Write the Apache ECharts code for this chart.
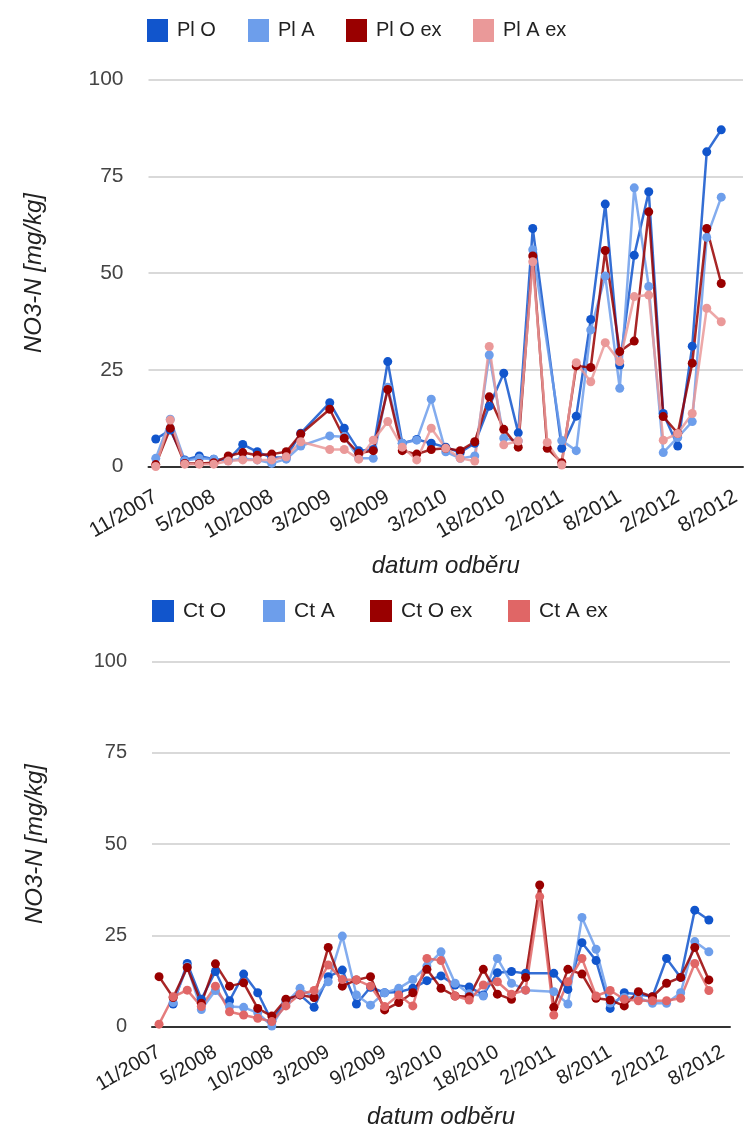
<!DOCTYPE html>
<html><head><meta charset="utf-8">
<script src="https://cdn.jsdelivr.net/npm/echarts@6/dist/echarts.min.js"></script>
<style>html,body{margin:0;padding:0;background:#fff}#c{width:746px;height:1131px}</style>
</head><body><div id="c"></div>
<script>
// tick labels (every 4th sampling date)
var xLabels = ['11/2007','5/2008','10/2008','3/2009','9/2009','3/2010','18/2010','2/2011','8/2011','2/2012','8/2012'];
var yTicks = [0, 25, 50, 75, 100];
var nCats = 41;

// top panel
var plO   = [7.1,9.4,1.7,2.7,1.9,1.7,5.7,3.8,2.3,2.4,8.6,null,16.5,9.9,4.1,4.4,27.1,6.0,7.0,6.0,5.0,3.6,6.0,15.6,24.1,8.7,61.5,null,4.7,13.0,38.0,67.8,26.2,54.6,71.0,13.7,5.3,31.1,81.3,87.0];
var plA   = [2.1,12.2,1.5,2.1,1.9,1.5,2.1,1.7,0.8,1.9,5.3,null,7.9,7.7,2.1,2.1,20.5,6.0,6.8,17.4,3.8,2.1,2.7,28.8,7.3,6.6,56.0,null,6.7,4.1,35.3,49.2,20.2,72.0,46.5,3.6,7.5,11.6,59.2,69.6];
var plOex = [0.5,9.9,0.8,0.8,1.0,2.7,3.6,2.9,3.2,3.8,8.4,null,14.8,7.3,3.4,4.1,19.9,4.1,3.2,4.4,4.7,4.1,6.4,18.0,9.6,5.0,54.4,4.7,1.0,26.0,25.6,55.8,29.7,32.4,65.8,12.9,8.6,26.7,61.5,47.3];
var plAex = [0,12.0,0.6,0.6,0.6,1.4,1.7,1.7,1.7,2.5,6.4,null,4.4,4.4,1.9,6.8,11.6,5.0,1.7,9.9,4.7,2.1,1.4,31.0,5.6,6.6,52.9,6.2,0.4,26.8,21.9,32.0,27.1,43.9,44.3,6.8,8.5,13.7,40.9,37.4];

// bottom panel
var ctO   = [null,6.2,17.3,7.5,15.1,7.1,14.4,9.3,1.5,7.3,8.7,5.3,13.7,15.5,6.2,10.8,9.3,9.5,10.5,12.6,13.9,11.4,10.9,8.7,14.8,15.1,14.6,null,14.6,10.2,23.0,18.1,5.0,9.3,8.9,8.2,18.7,13.5,31.9,29.2];
var ctA   = [null,6.6,16.5,4.7,9.9,5.5,5.3,3.8,0.2,6.5,10.5,8.0,12.3,24.8,8.7,5.9,9.3,10.5,12.9,16.6,20.5,11.9,9.0,8.4,18.7,11.9,10.0,null,9.6,6.2,29.9,21.2,6.5,8.0,8.0,6.4,6.4,9.3,23.3,20.5];
var ctOex = [13.7,8.0,16.2,6.4,17.2,11.1,12.0,5.0,2.9,7.5,8.7,8.0,21.7,11.1,12.8,13.7,4.6,6.6,9.3,15.7,10.5,8.4,8.2,15.7,8.9,7.5,13.5,38.8,5.3,15.7,14.4,7.8,7.3,5.7,9.6,8.2,11.9,13.5,21.7,12.8];
var ctAex = [0.7,8.2,10.0,5.5,11.1,4.1,3.2,2.3,1.4,5.7,8.9,9.9,16.9,12.9,12.8,11.1,5.5,8.7,5.7,18.7,18.1,8.4,7.3,11.4,12.3,8.9,10.0,35.6,3.2,12.3,18.7,8.4,9.9,7.5,7.1,7.1,7.1,7.8,17.3,9.9];

var cats = [];
for (var i = 0; i < nCats; i++) cats.push(i % 4 === 0 ? xLabels[i / 4] : '');

var FONT = '"Liberation Sans", Arial, sans-serif';
var C = {O:'#1155cc', A:'#6d9eeb', Oex:'#990000', AexPl:'#ea9999', AexCt:'#e06666'};

function xAxis(gi, fs, margin, gap){
  return {gridIndex:gi, type:'category', data:cats, boundaryGap:true,
    axisLine:{show:true, lineStyle:{color:'#333', width:2}},
    axisTick:{show:false},
    axisLabel:{interval:0, rotate:30, fontFamily:FONT, fontSize:fs, color:'#222', margin:margin},
    name:'datum odběru', nameLocation:'middle', nameGap:gap,
    nameTextStyle:{fontFamily:FONT, fontSize:24, fontStyle:'italic', color:'#222', verticalAlign:'top'}};
}
function yAxis(gi, fs, gap){
  return {gridIndex:gi, type:'value', min:yTicks[0], max:yTicks[yTicks.length-1], interval:25,
    axisLine:{show:false}, axisTick:{show:false},
    splitLine:{lineStyle:{color:'#cccccc', width:1.5}},
    axisLabel:{fontFamily:FONT, fontSize:fs, color:'#444', margin:25},
    name:'NO3-N [mg/kg]', nameLocation:'middle', nameGap:gap, nameRotate:90,
    nameTextStyle:{fontFamily:FONT, fontSize:24, fontStyle:'italic', color:'#222'}};
}
function ser(name, data, color, gi){
  return {name:name, type:'line', xAxisIndex:gi, yAxisIndex:gi, data:data, connectNulls:true,
    symbol:'circle', symbolSize:9, showSymbol:true,
    lineStyle:{color:color, width:2.5, opacity:0.85}, itemStyle:{color:color}, animation:false};
}
function leg(name, left, top, fs, w, h){
  return {data:[name], left:left, top:top, padding:0, icon:'rect', itemWidth:w, itemHeight:h,
    textStyle:{fontFamily:FONT, fontSize:fs, color:'#222', padding:[0,0,0,4]}, selectedMode:false};
}

var chart = echarts.init(document.getElementById('c'), null, {renderer:'canvas'});
chart.setOption({
  animation:false,
  grid:[{left:148.5, top:79.5, width:594.5, height:387, outerBoundsMode:'none'},
        {left:152, top:661.4, width:578, height:365.3, outerBoundsMode:'none'}],
  legend:[leg('Pl O',147,19,20,21,23), leg('Pl A',248,19,20,21,23), leg('Pl O ex',346,19,20,21,23), leg('Pl A ex',473,19,20,21,23),
          leg('Ct O',152,600,21,22,22), leg('Ct A',263,600,21,22,22), leg('Ct O ex',370,600,21,22,22), leg('Ct A ex',508,600,21,22,22)],
  xAxis:[xAxis(0,21,29,88), xAxis(1,20,24,79)],
  yAxis:[yAxis(0,21,102.5), yAxis(1,20,105)],
  series:[ser('Pl O',plO,C.O,0), ser('Pl A',plA,C.A,0), ser('Pl O ex',plOex,C.Oex,0), ser('Pl A ex',plAex,C.AexPl,0),
          ser('Ct O',ctO,C.O,1), ser('Ct A',ctA,C.A,1), ser('Ct O ex',ctOex,C.Oex,1), ser('Ct A ex',ctAex,C.AexCt,1)]
});
</script></body></html>
